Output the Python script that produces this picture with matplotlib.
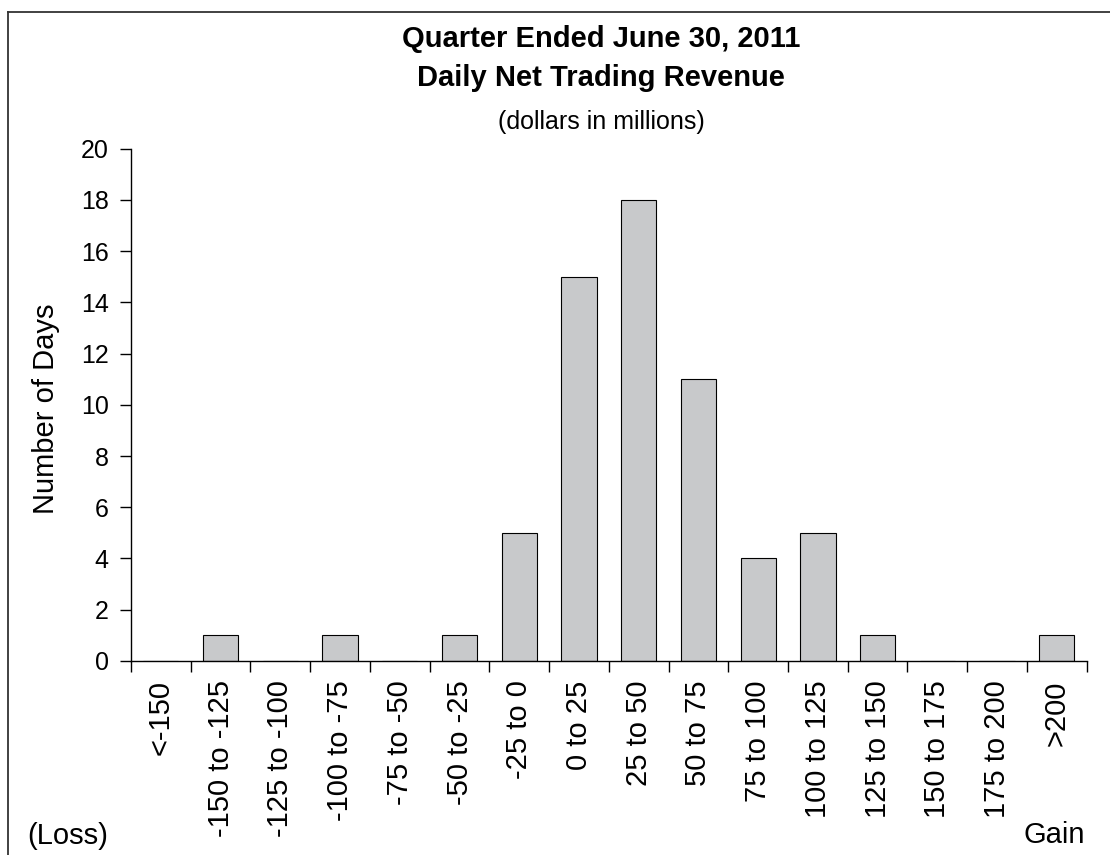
import matplotlib.pyplot as plt
from matplotlib.lines import Line2D
import numpy as np

plt.rcParams['font.family'] = ['Liberation Sans', 'DejaVu Sans']

# Revenue buckets (dollars in millions) and number of days in each
categories = ["<-150", "-150 to -125", "-125 to -100", "-100 to -75", "-75 to -50",
              "-50 to -25", "-25 to 0", "0 to 25", "25 to 50", "50 to 75",
              "75 to 100", "100 to 125", "125 to 150", "150 to 175", "175 to 200", ">200"]
days = [0, 1, 0, 1, 0, 1, 5, 15, 18, 11, 4, 5, 1, 0, 0, 1]

fig = plt.figure(figsize=(11.1, 8.55), dpi=100)
ax = fig.add_axes([0.118, 0.227, 0.861, 0.599])

# frame lines (top and left only, like the cropped original)
fig.add_artist(Line2D([8/1110, 1.0], [1 - 12/855, 1 - 12/855], transform=fig.transFigure,
                      color='#333333', lw=1.3))
fig.add_artist(Line2D([8/1110, 8/1110], [0.0, 1 - 12/855], transform=fig.transFigure,
                      color='#333333', lw=1.3))

x = np.arange(len(categories))
ax.bar(x, days, width=0.59, color='#c8c9cb', edgecolor='black', linewidth=0.8)

ax.set_xlim(-0.5, len(categories) - 0.5)
ax.set_ylim(0, 20)
ax.set_yticks(range(0, 21, 2))

# boundary ticks on the axis, labels centred under bars
ax.set_xticks(np.arange(-0.5, len(categories), 1.0))
ax.set_xticklabels([])
ax.set_xticks(x, minor=True)
ax.set_xticklabels(categories, minor=True, rotation=90, va='top', ha='center', fontsize=21)
ax.tick_params(axis='x', which='minor', length=0, pad=14)
ax.tick_params(axis='x', which='major', length=8, width=1, direction='out')
ax.tick_params(axis='y', length=8, width=1, direction='out', labelsize=18, pad=8)

for s in ['top', 'right']:
    ax.spines[s].set_visible(False)
ax.spines['left'].set_linewidth(1)
ax.spines['bottom'].set_linewidth(1)

ax.set_ylabel('Number of Days', fontsize=21)
ax.yaxis.set_label_coords(-0.0745, 0.492)

fig.text(0.5415, 1 - 39/855, 'Quarter Ended June 30, 2011',
         ha='center', va='center', fontsize=21, fontweight='bold')
fig.text(0.5415, 1 - 78/855, 'Daily Net Trading Revenue',
         ha='center', va='center', fontsize=21, fontweight='bold')
fig.text(0.5415, 1 - 122/855, '(dollars in millions)', ha='center', va='center', fontsize=18)
fig.text(0.0243, 1 - 844/855, '(Loss)', ha='left', va='baseline', fontsize=21)
fig.text(0.9775, 1 - 843/855, 'Gain', ha='right', va='baseline', fontsize=21)

plt.savefig('out.png', dpi=100)
